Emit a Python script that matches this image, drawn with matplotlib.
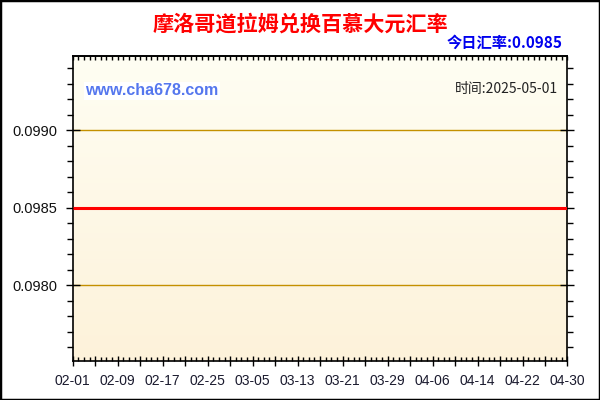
import numpy as np
import matplotlib
matplotlib.use("Agg")
import matplotlib.pyplot as plt
from matplotlib.patches import Rectangle
from matplotlib.ticker import FixedLocator, MultipleLocator, NullFormatter

# ---- data ----
dates = ["2025-02-01", "2025-02-09", "2025-02-17", "2025-02-25", "2025-03-05", "2025-03-13",
         "2025-03-21", "2025-03-29", "2025-04-06", "2025-04-14", "2025-04-22", "2025-04-30"]
rates = [0.0985, 0.0985, 0.0985, 0.0985, 0.0985, 0.0985,
         0.0985, 0.0985, 0.0985, 0.0985, 0.0985, 0.0985]
tick_labels = ["02-01", "02-09", "02-17", "02-25", "03-05", "03-13",
               "03-21", "03-29", "04-06", "04-14", "04-22", "04-30"]
y_ticks = [0.0980, 0.0985, 0.0990]
y_tick_labels = ["0.0980", "0.0985", "0.0990"]
title = "摩洛哥道拉姆兑换百慕大元汇率"
today_text = "今日汇率:0.0985"
time_text = "时间:2025-05-01"
site_text = "www.cha678.com"

CJK = ["Noto Sans CJK SC", "DejaVu Sans"]
LAT = ["Liberation Sans", "DejaVu Sans"]

d0 = np.datetime64(dates[0])
x = [(np.datetime64(d) - d0).astype(int) for d in dates]
xmax = x[-1]

fig = plt.figure(figsize=(6, 4), dpi=100)
fig.patch.set_facecolor("white")
ax = fig.add_axes([0.1212, 0.0975, 0.9458 - 0.1212, 0.8608 - 0.0975])

ylo, yhi = 0.09751, 0.09948
ax.set_xlim(0, xmax)
ax.set_ylim(ylo, yhi)

# gradient background
grad = np.linspace(0, 1, 256).reshape(-1, 1)
top = np.array([255, 254, 243]) / 255
bot = np.array([253, 242, 218]) / 255
img = top[None, None, :] * (1 - grad[:, :, None]) + bot[None, None, :] * grad[:, :, None]
ax.imshow(img, extent=[0, xmax, ylo, yhi], aspect="auto", origin="upper", zorder=0)

# grid lines
for yv in [0.0980, 0.0990]:
    ax.axhline(yv, color="#C49000", lw=1.0, zorder=1)

ax.plot(x, rates, color="#FF0000", lw=2.2, zorder=3, solid_capstyle="butt")

# ticks
major_x = list(range(0, xmax + 1, 4))
ax.xaxis.set_major_locator(FixedLocator(major_x))
ax.xaxis.set_minor_locator(MultipleLocator(1))
lab_map = {xi: lab for xi, lab in zip(x, tick_labels)}
ax.set_xticklabels([lab_map.get(m, "") for m in major_x], fontfamily=LAT, fontsize=10, color="#1a1a2e")
ax.tick_params(axis="x", which="major", direction="inout", length=7, width=1, top=False, bottom=True, pad=6)
ax.tick_params(axis="x", which="minor", direction="in", length=3, width=1, top=False, bottom=True)

sec = ax.secondary_xaxis("top")
sec.xaxis.set_major_locator(MultipleLocator(1))
sec.xaxis.set_major_formatter(NullFormatter())
sec.tick_params(axis="x", which="major", direction="in", length=3, width=1)
sec.spines["top"].set_linewidth(1.2)

ax.yaxis.set_major_locator(FixedLocator(y_ticks))
ax.yaxis.set_minor_locator(MultipleLocator(0.0001))
ax.set_yticklabels(y_tick_labels, fontfamily=LAT, fontsize=10.5, color="#111111")
ax.tick_params(axis="y", which="major", direction="inout", length=10, width=1, left=True, right=True, pad=6)
ax.tick_params(axis="y", which="minor", direction="out", length=4, width=1, left=True, right=True)

for s in ax.spines.values():
    s.set_linewidth(1.2)
    s.set_color("black")

# texts
fig.text(0.5, 0.94, title, ha="center", va="center", color="#FF0000",
         fontsize=15.2, fontweight="bold", family=CJK)
fig.text(0.938, 0.893, today_text, ha="right", va="center", color="#0000EE",
         fontsize=11, fontweight="bold", family=CJK)
ax.text(0.025, 0.885, site_text, transform=ax.transAxes, ha="left", va="center",
        color="#5577EE", fontsize=11.5, fontweight="bold", family=LAT,
        bbox=dict(facecolor="white", edgecolor="none", pad=1), zorder=4)
ax.text(0.98, 0.89, time_text, transform=ax.transAxes, ha="right", va="center",
        color="#222222", fontsize=10, family=CJK, zorder=4)

# figure border
fig.patches.append(Rectangle((0, 0), 1, 1, transform=fig.transFigure, fill=False,
                             edgecolor="black", linewidth=2.5))

fig.savefig("out.png", dpi=100)
